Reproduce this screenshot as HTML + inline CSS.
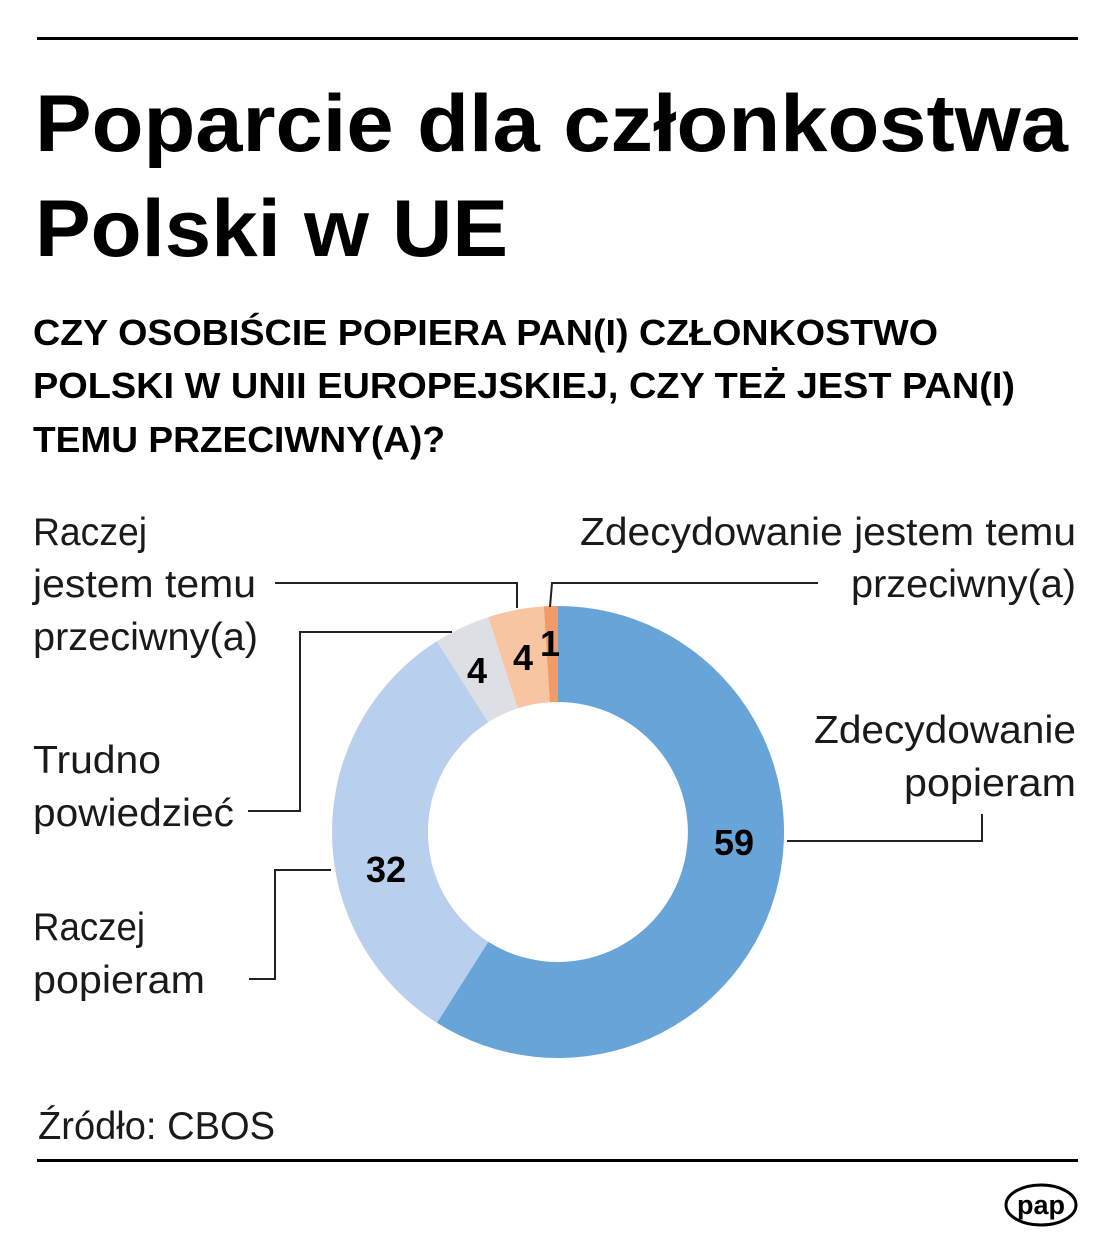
<!DOCTYPE html>
<html><head><meta charset="utf-8"><style>
html,body{margin:0;padding:0;background:#fff;}
svg{display:block;}
.t{font-family:"Liberation Sans",sans-serif;font-weight:bold;fill:#000;}
.l{font-family:"Liberation Sans",sans-serif;font-weight:300;fill:#1a1a1a;font-size:39px;}
.n{font-family:"Liberation Sans",sans-serif;font-weight:bold;fill:#000;font-size:36px;text-anchor:middle;}
</style></head><body>
<svg width="1116" height="1250" viewBox="0 0 1116 1250" xmlns="http://www.w3.org/2000/svg">
<rect x="37" y="37" width="1041" height="3" fill="#000"/>
<text class="t" x="35" y="151" font-size="81" textLength="1033" lengthAdjust="spacingAndGlyphs">Poparcie dla członkostwa</text>
<text class="t" x="35" y="256" font-size="81" textLength="473" lengthAdjust="spacingAndGlyphs">Polski w UE</text>
<text class="t" x="33" y="345" font-size="36" textLength="905" lengthAdjust="spacingAndGlyphs">CZY OSOBIŚCIE POPIERA PAN(I) CZŁONKOSTWO</text>
<text class="t" x="33" y="398" font-size="36" textLength="982" lengthAdjust="spacingAndGlyphs">POLSKI W UNII EUROPEJSKIEJ, CZY TEŻ JEST PAN(I)</text>
<text class="t" x="33" y="452" font-size="36" textLength="412" lengthAdjust="spacingAndGlyphs">TEMU PRZECIWNY(A)?</text>

<path d="M558,606 A226,226 0 1 1 436.9,1022.8 L488.3,941.8 A130,130 0 1 0 558,702 Z" fill="#67a4d8"/>
<path d="M436.9,1022.8 A226,226 0 0 1 436.9,641.2 L488.3,722.2 A130,130 0 0 0 488.3,941.8 Z" fill="#b9cfee"/>
<path d="M436.9,641.2 A226,226 0 0 1 488.2,617.1 L517.8,708.4 A130,130 0 0 0 488.3,722.2 Z" fill="#dce0e4"/>
<path d="M488.2,617.1 A226,226 0 0 1 543.8,606.4 L549.8,702.3 A130,130 0 0 0 517.8,708.4 Z" fill="#f8c5a2"/>
<path d="M543.8,606.4 A226,226 0 0 1 558,606 L558,702 A130,130 0 0 0 549.8,702.3 Z" fill="#f29a68"/>

<g fill="none" stroke="#222" stroke-width="2">
<polyline points="275,583 517,583 517,608"/>
<polyline points="248,811 300,811 300,632 452,632"/>
<polyline points="818,583 552,583 550,607"/>
<polyline points="787,841 982,841 982,814"/>
<polyline points="249,979 275,979 275,870 331,870"/>
</g>

<text class="n" x="734" y="855">59</text>
<text class="n" x="386" y="882">32</text>
<text class="n" x="477" y="683">4</text>
<text class="n" x="523" y="670">4</text>
<text class="n" x="550" y="656">1</text>

<text class="l" x="33" y="545" textLength="114" lengthAdjust="spacingAndGlyphs">Raczej</text>
<text class="l" x="33" y="597" textLength="223" lengthAdjust="spacingAndGlyphs">jestem temu</text>
<text class="l" x="33" y="650" textLength="225" lengthAdjust="spacingAndGlyphs">przeciwny(a)</text>
<text class="l" x="33" y="773" textLength="128" lengthAdjust="spacingAndGlyphs">Trudno</text>
<text class="l" x="33" y="826" textLength="201" lengthAdjust="spacingAndGlyphs">powiedzieć</text>
<text class="l" x="33" y="940" textLength="112" lengthAdjust="spacingAndGlyphs">Raczej</text>
<text class="l" x="33" y="993" textLength="172" lengthAdjust="spacingAndGlyphs">popieram</text>
<text class="l" x="580" y="545" textLength="496" lengthAdjust="spacingAndGlyphs">Zdecydowanie jestem temu</text>
<text class="l" x="851" y="597" textLength="225" lengthAdjust="spacingAndGlyphs">przeciwny(a)</text>
<text class="l" x="814" y="743" textLength="262" lengthAdjust="spacingAndGlyphs">Zdecydowanie</text>
<text class="l" x="904" y="796" textLength="172" lengthAdjust="spacingAndGlyphs">popieram</text>
<text class="l" x="38" y="1139" textLength="237" lengthAdjust="spacingAndGlyphs">Źródło: CBOS</text>

<rect x="37" y="1159" width="1041" height="3" fill="#000"/>
<ellipse cx="1041" cy="1205" rx="35" ry="20" fill="none" stroke="#000" stroke-width="3"/>
<text x="1041" y="1214" text-anchor="middle" font-family="Liberation Sans,sans-serif" font-weight="bold" font-size="27" fill="#000">pap</text>
</svg>
</body></html>
